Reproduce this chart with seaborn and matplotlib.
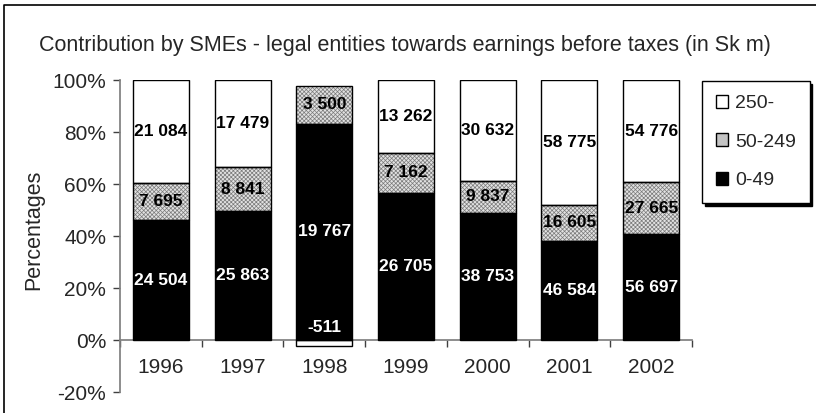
import numpy as np
import pandas as pd
import matplotlib
matplotlib.use("Agg")
import matplotlib.pyplot as plt
import seaborn as sns
from matplotlib.patches import Patch
from matplotlib.lines import Line2D

years = ["1996", "1997", "1998", "1999", "2000", "2001", "2002"]
small = [24504, 25863, 19767, 26705, 38753, 46584, 56697]      # 0-49
medium = [7695, 8841, 3500, 7162, 9837, 16605, 27665]           # 50-249
large = [21084, 17479, -511, 13262, 30632, 58775, 54776]        # 250-
series_names = ["0-49", "50-249", "250-"]
title = "Contribution by SMEs - legal entities towards earnings before taxes (in Sk m)"

sns.set_theme(style="white")
plt.rcParams["font.family"] = ["Liberation Sans", "DejaVu Sans"]
plt.rcParams["hatch.linewidth"] = 0.5

vals = np.array([small, medium, large], dtype=float)
tot = np.abs(vals).sum(axis=0)
pct = vals / tot * 100

fig = plt.figure(figsize=(8.16, 4.13), dpi=100)
ax = fig.add_axes([120 / 816, 21 / 413, 572 / 816, 312 / 413])

colors = ["black", "#e2e2e2", "white"]
hatches = [None, "xxxxxxxx", None]
hatch_cols = ["black", "#7a7a7a", "black"]
pos_bottom = np.zeros(len(years))
neg_bottom = np.zeros(len(years))
bw = 0.686
for i, name in enumerate(series_names):
    p = pct[i]
    bottoms = np.where(p >= 0, pos_bottom, neg_bottom)
    df = pd.DataFrame({"year": years, "pct": p})
    sns.barplot(data=df, x="year", y="pct", order=years, bottom=bottoms,
                color=colors[i], edgecolor=hatch_cols[i], linewidth=0,
                hatch=hatches[i], width=bw, saturation=1, ax=ax, zorder=2)
    sns.barplot(data=df, x="year", y="pct", order=years, bottom=bottoms,
                color="black", fill=False, linewidth=1.0,
                width=bw, saturation=1, ax=ax, zorder=3)
    for j in range(len(years)):
        v = vals[i, j]
        label = f"{int(v):,}".replace(",", " ")
        if p[j] >= 0:
            yc = bottoms[j] + p[j] / 2
            col = "white" if i == 0 else "black"
        else:
            yc = 5
            col = "white"
        ax.text(j, yc, label, ha="center", va="center", color=col,
                fontsize=12.5, fontweight="bold", zorder=5)
    pos_bottom = pos_bottom + np.where(p >= 0, p, 0)
    neg_bottom = neg_bottom + np.where(p < 0, p, 0)

ax.set_ylim(-20, 100)
ax.set_xlim(-0.5, len(years) - 0.5)
ax.set_yticks(np.arange(-20, 101, 20))
ax.set_yticklabels([f"{t}%" for t in range(-20, 101, 20)])
ax.set_xlabel("")
ax.set_ylabel("Percentages", fontsize=15.5, labelpad=6)
ax.yaxis.label.set_y(0.52)

for s in ["top", "right"]:
    ax.spines[s].set_visible(False)
ax.spines["bottom"].set_position(("data", 0))
ax.spines["bottom"].set_color("#808080")
ax.spines["left"].set_color("#808080")
ax.spines["bottom"].set_zorder(1)

ax.tick_params(axis="y", which="major", direction="out", length=5, width=1,
               color="#404040", labelsize=15, pad=5, left=True)
ax.set_xticks(np.arange(-0.5, len(years), 1.0), minor=True)
ax.tick_params(axis="x", which="minor", direction="out", length=5, width=1,
               color="#404040", bottom=True)
ax.tick_params(axis="x", which="major", length=0, labelsize=15, pad=13)

fig.text(405 / 816, 1 - 45 / 413, title, ha="center", va="center", fontsize=15.5)

handles = [Patch(facecolor=colors[2], edgecolor="black", label=series_names[2]),
           Patch(facecolor="#c4c4c4", edgecolor="black", label=series_names[1]),
           Patch(facecolor=colors[0], edgecolor="black", label=series_names[0])]
leg = fig.legend(handles=handles, loc="upper left",
                 bbox_to_anchor=(702 / 816, 1 - 81 / 413), frameon=True,
                 fancybox=False, shadow={"color": "black", "alpha": 1},
                 edgecolor="black", fontsize=14, handlelength=0.65,
                 handleheight=0.65, labelspacing=1.1, handletextpad=0.35,
                 borderpad=0.7, borderaxespad=0)
leg.get_frame().set_linewidth(1.0)

fig.add_artist(Line2D([4 / 816, 4 / 816, 1], [0, 1 - 5 / 413, 1 - 5 / 413],
                      color="black", linewidth=1.2, transform=fig.transFigure))

fig.savefig("out.png", dpi=100)
